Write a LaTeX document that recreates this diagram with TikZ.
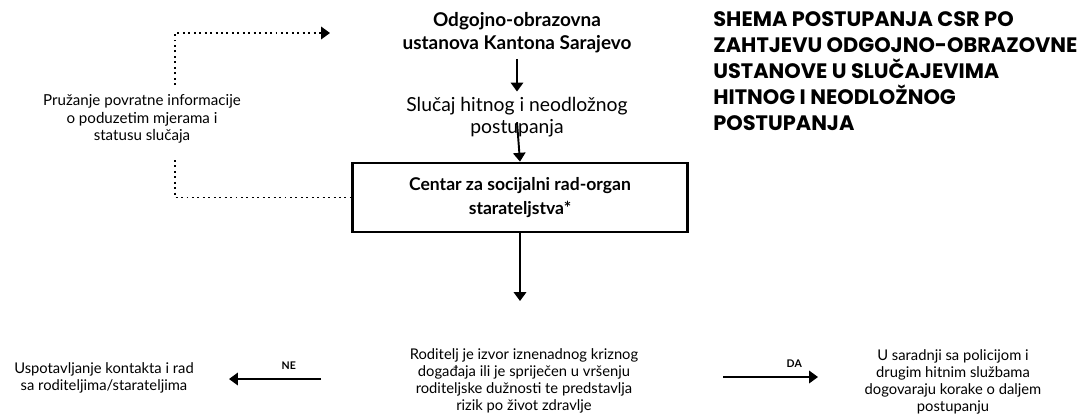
\documentclass[tikz,border=0pt]{standalone}
\usepackage{fontspec}
\setmainfont{Lato}
\newfontfamily\headfont{Poppins}
\usetikzlibrary{arrows.meta,positioning}
\tikzset{>={Triangle[width=7pt,length=5pt]},
    txt/.style={align=center,inner sep=0pt,font=\fontsize{11}{12.5}\selectfont},
    boldtxt/.style={txt,font=\fontsize{10.8}{13}\selectfont\bfseries},
    smalltxt/.style={align=center,inner sep=0pt,font=\fontsize{8.4}{9.7}\selectfont},
    csrbox/.style={draw,line width=1.6pt,minimum width=335*0.02cm,minimum height=69*0.02cm,align=center,
        font=\fontsize{10}{13.5}\selectfont\bfseries},
    flow/.style={->,line width=1.1pt},
    feedback/.style={->,line width=1.1pt,dotted},
    yesno/.style={font=\fontsize{6}{7}\selectfont\bfseries,inner sep=1pt}}

\begin{document}
\begin{tikzpicture}[x=0.02cm,y=-0.02cm]
    \useasboundingbox (0,0) rectangle (1091,414);
    % top part
    \node[boldtxt] (oou) at (517,33) {Odgojno-obrazovna\\ustanova Kantona Sarajevo};
    \node[txt] (hitno) at (517,117) {Slučaj hitnog i neodložnog\\postupanja};
    \node[csrbox] (csr) at (520,197.5) {Centar za socijalni rad-organ\\starateljstva*};
    \node[anchor=north west,align=left,inner sep=0pt,font=\headfont\fontsize{11.9}{14.8}\selectfont\bfseries] (naslov) at (713,11)
        {SHEMA POSTUPANJA CSR PO\\ZAHTJEVU ODGOJNO-OBRAZOVNE\\USTANOVE U SLUČAJEVIMA\\HITNOG I NEODLOŽNOG\\POSTUPANJA};
    % feedback
    \node[smalltxt,font=\fontsize{8.6}{9.8}\selectfont] (info) at (142,119) {Pružanje povratne informacije\\o poduzetim mjerama i\\statusu slučaja};
    \coordinate (fbtop) at (175,85);
    \coordinate (fbend) at (330,33);
    \coordinate (fbbot) at (175,160);
    % bottom part
    \coordinate (split) at (523,301);
    \node[smalltxt] (rizik) at (524,381) {Roditelj je izvor iznenadnog kriznog\\događaja ili je spriječen u vršenju\\roditeljske dužnosti te predstavlja\\rizik po život zdravlje};
    \node[smalltxt] (kontakt) at (104,378) {Uspotavljanje kontakta i rad\\sa roditeljima/starateljima};
    \node[smalltxt] (policija) at (953,382) {U saradnji sa policijom i\\drugim hitnim službama\\dogovaraju korake o daljem\\postupanju};
    \coordinate (nestart) at (321,379);
    \coordinate (neend) at (229,379);
    \coordinate (dastart) at (723,377);
    \coordinate (daend) at (818,377);

    \draw[flow,shorten <=3pt,shorten >=3pt] (oou) -- (hitno);
    \draw[flow] (hitno.south) ++(0,-15) -- (csr.north);
    \draw[flow] (csr.south) -- (csr.south |- split);
    \draw[flow] (nestart) -- node[yesno,above=4pt,pos=0.35] {NE} (neend);
    \draw[flow] (dastart) -- node[yesno,above=4pt,pos=0.75] {DA} (daend);
    \draw[feedback] (fbtop) |- (fbend);
    \draw[line width=1.1pt,dotted] (fbbot) |- (csr.west);
\end{tikzpicture}
\end{document}
